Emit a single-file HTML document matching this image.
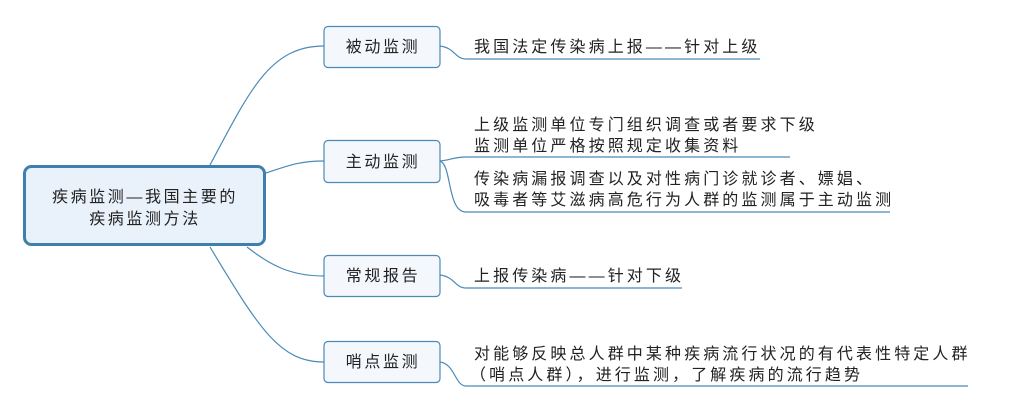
<!DOCTYPE html>
<html><head><meta charset="utf-8"><style>
body{margin:0;background:#fff;}
svg{display:block;}
text{font-family:"Liberation Sans","Noto Sans CJK SC",sans-serif;font-size:16px;fill:#222;letter-spacing:2.6px;}
text.r{letter-spacing:3.1px;}
</style></head><body>
<svg width="1013" height="407" viewBox="0 0 1013 407">
<g fill="none" stroke="#4a8ab8" stroke-width="1.2">
<path d="M210,165 C250,90 270,46 324,46"/>
<path d="M266,173 C290,165 300,161 324,161"/>
<path d="M247,247 C270,265 290,276 324,276"/>
<path d="M210,247 C260,330 280,362 324,362"/>
<path d="M440,46 C455,48 455,59 466,59 L760,59"/>
<path d="M440,161 C450,160 455,157 466,157 L790,157"/>
<path d="M440,161 C452,165 447,212 466,212 L890,212"/>
<path d="M440,275 C455,277 455,288 466,288 L682,288"/>
<path d="M440,362 C455,364 455,386 466,386 L968,386"/>
</g>
<rect x="24.5" y="166.5" width="240" height="78" rx="7" fill="#e9f1fa" stroke="#3f7fae" stroke-width="3"/>
<g fill="#f4f8fc" stroke="#4a8ab8" stroke-width="1.2">
<rect x="324" y="26.5" width="116" height="41" rx="4"/>
<rect x="324" y="140.5" width="116" height="42" rx="4"/>
<rect x="324" y="255.5" width="116" height="41" rx="4"/>
<rect x="324" y="341.5" width="116" height="41" rx="4"/>
</g>
<text x="145" y="202" text-anchor="middle">疾病监测—我国主要的</text>
<text x="145" y="224" text-anchor="middle">疾病监测方法</text>
<text x="383" y="52" text-anchor="middle">被动监测</text>
<text x="383" y="167" text-anchor="middle">主动监测</text>
<text x="383" y="281" text-anchor="middle">常规报告</text>
<text x="383" y="367" text-anchor="middle">哨点监测</text>
<text class="r" x="474" y="52">我国法定传染病上报——针对上级</text>
<text class="r" x="474" y="130">上级监测单位专门组织调查或者要求下级</text>
<text class="r" x="474" y="151">监测单位严格按照规定收集资料</text>
<text class="r" x="474" y="184">传染病漏报调查以及对性病门诊就诊者、嫖娼、</text>
<text class="r" x="474" y="205">吸毒者等艾滋病高危行为人群的监测属于主动监测</text>
<text class="r" x="474" y="281">上报传染病——针对下级</text>
<text class="r" x="474" y="359">对能够反映总人群中某种疾病流行状况的有代表性特定人群</text>
<text class="r" x="470" y="380">（哨点人群），进行监测，了解疾病的流行趋势</text>
</svg>
</body></html>
